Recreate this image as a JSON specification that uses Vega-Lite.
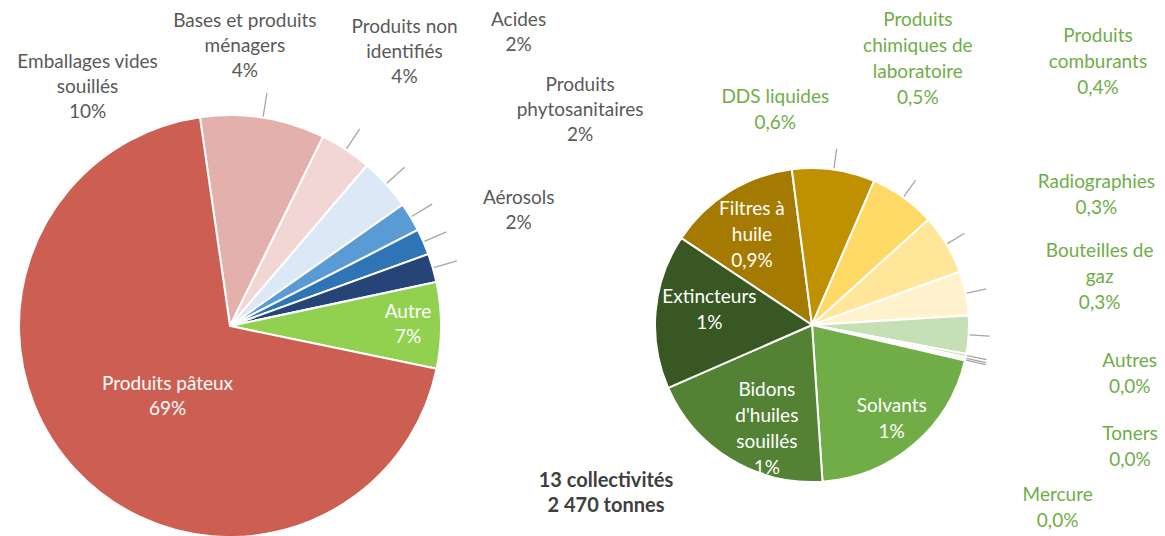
{
  "$schema": "https://vega.github.io/schema/vega-lite/v6.json",
  "width": 1165,
  "height": 536,
  "padding": 0,
  "autosize": {"type": "none"},
  "background": "#ffffff",
  "config": {"view": {"stroke": null}},
  "datasets": {
    "main": [
      {"pie": "main", "ord": 1, "cat": "Emballages vides souillés", "label": "Emballages vides\nsouillés\n10%", "t": 236},
      {"pie": "main", "ord": 2, "cat": "Bases et produits ménagers", "label": "Bases et produits\nménagers\n4%", "t": 98},
      {"pie": "main", "ord": 3, "cat": "Produits non identifiés", "label": "Produits non\nidentifiés\n4%", "t": 99},
      {"pie": "main", "ord": 4, "cat": "Acides", "label": "Acides\n2%", "t": 55},
      {"pie": "main", "ord": 5, "cat": "Produits phytosanitaires", "label": "Produits\nphytosanitaires\n2%", "t": 49},
      {"pie": "main", "ord": 6, "cat": "Aérosols", "label": "Aérosols\n2%", "t": 54},
      {"pie": "main", "ord": 7, "cat": "Autre", "label": "Autre\n7%", "t": 163},
      {"pie": "main", "ord": 8, "cat": "Produits pâteux", "label": "Produits pâteux\n69%", "t": 1716}
    ],
    "detail": [
      {"pie": "detail", "ord": 1, "cat": "Filtres à huile", "label": "Filtres à\nhuile\n0,9%", "t": 22.2},
      {"pie": "detail", "ord": 2, "cat": "DDS liquides", "label": "DDS liquides\n0,6%", "t": 13.9},
      {"pie": "detail", "ord": 3, "cat": "Produits chimiques de laboratoire", "label": "Produits\nchimiques de\nlaboratoire\n0,5%", "t": 11.1},
      {"pie": "detail", "ord": 4, "cat": "Produits comburants", "label": "Produits\ncomburants\n0,4%", "t": 10.1},
      {"pie": "detail", "ord": 5, "cat": "Radiographies", "label": "Radiographies\n0,3%", "t": 7.4},
      {"pie": "detail", "ord": 6, "cat": "Bouteilles de gaz", "label": "Bouteilles de\ngaz\n0,3%", "t": 6.4},
      {"pie": "detail", "ord": 7, "cat": "Autres", "label": "Autres\n0,0%", "t": 0.5},
      {"pie": "detail", "ord": 8, "cat": "Toners", "label": "Toners\n0,0%", "t": 0.4},
      {"pie": "detail", "ord": 9, "cat": "Mercure", "label": "Mercure\n0,0%", "t": 0.2},
      {"pie": "detail", "ord": 10, "cat": "Solvants", "label": "Solvants\n1%", "t": 33.1},
      {"pie": "detail", "ord": 11, "cat": "Bidons d'huiles souillés", "label": "Bidons\nd'huiles\nsouillés\n1%", "t": 31.8},
      {"pie": "detail", "ord": 12, "cat": "Extincteurs", "label": "Extincteurs\n1%", "t": 25.9}
    ]
  },
  "layer": [
    {
      "data": {"name": "main"},
      "encoding": {
        "theta": {"field": "t", "type": "quantitative", "stack": true, "scale": {"range": [-0.1431, 6.1401]}},
        "order": {"field": "ord", "type": "quantitative"},
        "detail": {"field": "cat", "type": "nominal"},
        "x": {"field": "pie", "type": "nominal", "axis": null, "scale": {"type": "point", "domain": ["main", "detail"], "range": [230, 812], "padding": 0}},
        "y": {"field": "pie", "type": "nominal", "axis": null, "scale": {"type": "point", "domain": ["main", "detail"], "range": [326, 325], "padding": 0}}
      },
      "layer": [
        {
          "mark": {"type": "arc", "outerRadius": 211, "stroke": "#ffffff", "strokeWidth": 2},
          "encoding": {
            "color": {"field": "cat", "type": "nominal", "legend": null,
              "scale": {"domain": ["Emballages vides souillés", "Bases et produits ménagers", "Produits non identifiés", "Acides", "Produits phytosanitaires", "Aérosols", "Autre", "Produits pâteux"],
                        "range": ["#E4B0AB", "#F2D6D4", "#DCE8F5", "#5B9BD5", "#2E75B6", "#264478", "#92D050", "#CD5E52"]}}
          }
        },
        {
          "mark": {"type": "arc", "outerRadius": 236, "innerRadius": 212, "padAngle": 3.5, "filled": false, "stroke": "#a6a6a6", "strokeWidth": 1.3},
          "encoding": {"strokeOpacity": {"condition": {"test": "datum.ord <= 6", "value": 1}, "value": 0}}
        },
        {
          "mark": {"type": "text", "font": "Lato", "fontSize": 19, "lineBreak": "\n", "lineHeight": 25, "align": "center", "baseline": "middle", "color": "#595959", "radius": 240, "dx": -180, "dy": -27},
          "encoding": {"text": {"condition": {"test": "datum.ord === 1", "field": "label", "type": "nominal"}, "value": ""}}
        },
        {
          "mark": {"type": "text", "font": "Lato", "fontSize": 19, "lineBreak": "\n", "lineHeight": 25, "align": "center", "baseline": "middle", "color": "#595959", "radius": 240, "dx": -117, "dy": -104},
          "encoding": {"text": {"condition": {"test": "datum.ord === 2", "field": "label", "type": "nominal"}, "value": ""}}
        },
        {
          "mark": {"type": "text", "font": "Lato", "fontSize": 19, "lineBreak": "\n", "lineHeight": 25, "align": "center", "baseline": "middle", "color": "#595959", "radius": 240, "dx": -3, "dy": -137},
          "encoding": {"text": {"condition": {"test": "datum.ord === 3", "field": "label", "type": "nominal"}, "value": ""}}
        },
        {
          "mark": {"type": "text", "font": "Lato", "fontSize": 19, "lineBreak": "\n", "lineHeight": 25, "align": "center", "baseline": "middle", "color": "#595959", "radius": 240, "dx": 83, "dy": -182},
          "encoding": {"text": {"condition": {"test": "datum.ord === 4", "field": "label", "type": "nominal"}, "value": ""}}
        },
        {
          "mark": {"type": "text", "font": "Lato", "fontSize": 19, "lineBreak": "\n", "lineHeight": 25, "align": "center", "baseline": "middle", "color": "#595959", "radius": 240, "dx": 130, "dy": -145},
          "encoding": {"text": {"condition": {"test": "datum.ord === 5", "field": "label", "type": "nominal"}, "value": ""}}
        },
        {
          "mark": {"type": "text", "font": "Lato", "fontSize": 19, "lineBreak": "\n", "lineHeight": 25, "align": "center", "baseline": "middle", "color": "#595959", "radius": 240, "dx": 58, "dy": -62},
          "encoding": {"text": {"condition": {"test": "datum.ord === 6", "field": "label", "type": "nominal"}, "value": ""}}
        },
        {
          "mark": {"type": "text", "font": "Lato", "fontSize": 19, "lineBreak": "\n", "lineHeight": 25, "align": "center", "baseline": "middle", "color": "#ffffff", "radius": 178, "dx": 0, "dy": -13},
          "encoding": {"text": {"condition": {"test": "datum.ord === 7", "field": "label", "type": "nominal"}, "value": ""}}
        },
        {
          "mark": {"type": "text", "font": "Lato", "fontSize": 19, "lineBreak": "\n", "lineHeight": 25, "align": "center", "baseline": "middle", "color": "#ffffff", "radius": 94, "dx": 6, "dy": -6},
          "encoding": {"text": {"condition": {"test": "datum.ord === 8", "field": "label", "type": "nominal"}, "value": ""}}
        }
      ]
    },
    {
      "data": {"name": "detail"},
      "encoding": {
        "theta": {"field": "t", "type": "quantitative", "stack": true, "scale": {"range": [-0.9844, 5.2988]}},
        "order": {"field": "ord", "type": "quantitative"},
        "detail": {"field": "cat", "type": "nominal"},
        "x": {"field": "pie", "type": "nominal", "axis": null, "scale": {"type": "point", "domain": ["main", "detail"], "range": [230, 812], "padding": 0}},
        "y": {"field": "pie", "type": "nominal", "axis": null, "scale": {"type": "point", "domain": ["main", "detail"], "range": [326, 325], "padding": 0}}
      },
      "layer": [
        {
          "mark": {"type": "arc", "outerRadius": 157, "stroke": "#ffffff", "strokeWidth": 2},
          "encoding": {
            "color": {"field": "cat", "type": "nominal", "legend": null,
              "scale": {"domain": ["Filtres à huile", "DDS liquides", "Produits chimiques de laboratoire", "Produits comburants", "Radiographies", "Bouteilles de gaz", "Autres", "Toners", "Mercure", "Solvants", "Bidons d'huiles souillés", "Extincteurs"],
                        "range": ["#A57A00", "#BF9000", "#FFD966", "#FFE699", "#FFF2CC", "#C5E0B4", "#A9D18E", "#C5E0B4", "#E2F0D9", "#70AD47", "#548235", "#385723"]}}
          }
        },
        {
          "mark": {"type": "arc", "outerRadius": 178, "innerRadius": 158, "padAngle": 3.5, "filled": false, "stroke": "#a6a6a6", "strokeWidth": 1.3},
          "encoding": {"strokeOpacity": {"condition": {"test": "datum.ord >= 2 && datum.ord <= 9", "value": 1}, "value": 0}}
        },
        {
          "mark": {"type": "text", "font": "Lato", "fontSize": 19, "lineBreak": "\n", "lineHeight": 26, "align": "center", "baseline": "middle", "color": "#ffffff", "radius": 108, "dx": -3, "dy": -24},
          "encoding": {"text": {"condition": {"test": "datum.ord === 1", "field": "label", "type": "nominal"}, "value": ""}}
        },
        {
          "mark": {"type": "text", "font": "Lato", "fontSize": 19, "lineBreak": "\n", "lineHeight": 26, "align": "center", "baseline": "middle", "color": "#70AD47", "radius": 175, "dx": -61, "dy": -55},
          "encoding": {"text": {"condition": {"test": "datum.ord === 2", "field": "label", "type": "nominal"}, "value": ""}}
        },
        {
          "mark": {"type": "text", "font": "Lato", "fontSize": 19, "lineBreak": "\n", "lineHeight": 26, "align": "center", "baseline": "middle", "color": "#70AD47", "radius": 175, "dx": 4, "dy": -163},
          "encoding": {"text": {"condition": {"test": "datum.ord === 3", "field": "label", "type": "nominal"}, "value": ""}}
        },
        {
          "mark": {"type": "text", "font": "Lato", "fontSize": 19, "lineBreak": "\n", "lineHeight": 26, "align": "center", "baseline": "middle", "color": "#70AD47", "radius": 175, "dx": 136, "dy": -199},
          "encoding": {"text": {"condition": {"test": "datum.ord === 4", "field": "label", "type": "nominal"}, "value": ""}}
        },
        {
          "mark": {"type": "text", "font": "Lato", "fontSize": 19, "lineBreak": "\n", "lineHeight": 26, "align": "center", "baseline": "middle", "color": "#70AD47", "radius": 175, "dx": 113, "dy": -108},
          "encoding": {"text": {"condition": {"test": "datum.ord === 5", "field": "label", "type": "nominal"}, "value": ""}}
        },
        {
          "mark": {"type": "text", "font": "Lato", "fontSize": 19, "lineBreak": "\n", "lineHeight": 26, "align": "center", "baseline": "middle", "color": "#70AD47", "radius": 175, "dx": 113, "dy": -85},
          "encoding": {"text": {"condition": {"test": "datum.ord === 6", "field": "label", "type": "nominal"}, "value": ""}}
        },
        {
          "mark": {"type": "text", "font": "Lato", "fontSize": 19, "lineBreak": "\n", "lineHeight": 26, "align": "center", "baseline": "middle", "color": "#70AD47", "radius": 175, "dx": 146, "dy": 2},
          "encoding": {"text": {"condition": {"test": "datum.ord === 7", "field": "label", "type": "nominal"}, "value": ""}}
        },
        {
          "mark": {"type": "text", "font": "Lato", "fontSize": 19, "lineBreak": "\n", "lineHeight": 26, "align": "center", "baseline": "middle", "color": "#70AD47", "radius": 175, "dx": 147, "dy": 72},
          "encoding": {"text": {"condition": {"test": "datum.ord === 8", "field": "label", "type": "nominal"}, "value": ""}}
        },
        {
          "mark": {"type": "text", "font": "Lato", "fontSize": 19, "lineBreak": "\n", "lineHeight": 26, "align": "center", "baseline": "middle", "color": "#70AD47", "radius": 175, "dx": 75, "dy": 131},
          "encoding": {"text": {"condition": {"test": "datum.ord === 9", "field": "label", "type": "nominal"}, "value": ""}}
        },
        {
          "mark": {"type": "text", "font": "Lato", "fontSize": 19, "lineBreak": "\n", "lineHeight": 26, "align": "center", "baseline": "middle", "color": "#ffffff", "radius": 123, "dx": 0, "dy": -13},
          "encoding": {"text": {"condition": {"test": "datum.ord === 10", "field": "label", "type": "nominal"}, "value": ""}}
        },
        {
          "mark": {"type": "text", "font": "Lato", "fontSize": 19, "lineBreak": "\n", "lineHeight": 26, "align": "center", "baseline": "middle", "color": "#ffffff", "radius": 112, "dx": 13, "dy": -31},
          "encoding": {"text": {"condition": {"test": "datum.ord === 11", "field": "label", "type": "nominal"}, "value": ""}}
        },
        {
          "mark": {"type": "text", "font": "Lato", "fontSize": 19, "lineBreak": "\n", "lineHeight": 26, "align": "center", "baseline": "middle", "color": "#ffffff", "radius": 102, "dx": -1, "dy": -19},
          "encoding": {"text": {"condition": {"test": "datum.ord === 12", "field": "label", "type": "nominal"}, "value": ""}}
        }
      ]
    },
    {
      "data": {"values": [{"pie": "detail", "note": "13 collectivités\n2 470 tonnes"}]},
      "mark": {"type": "text", "font": "Lato", "fontWeight": "bold", "fontSize": 20, "lineBreak": "\n", "lineHeight": 25, "align": "center", "baseline": "middle", "color": "#404040", "dx": -206, "dy": 156},
      "encoding": {
        "x": {"field": "pie", "type": "nominal", "axis": null, "scale": {"type": "point", "domain": ["main", "detail"], "range": [230, 812], "padding": 0}},
        "y": {"field": "pie", "type": "nominal", "axis": null, "scale": {"type": "point", "domain": ["main", "detail"], "range": [326, 325], "padding": 0}},
        "text": {"field": "note", "type": "nominal"}
      }
    }
  ],
  "resolve": {"scale": {"theta": "independent", "color": "independent"}}
}
